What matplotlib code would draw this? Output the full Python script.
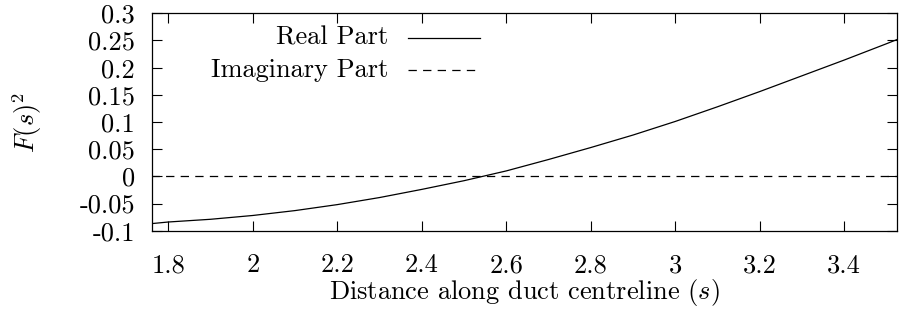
import numpy as np
import matplotlib
matplotlib.use("Agg")
import matplotlib.pyplot as plt
from matplotlib.ticker import FixedLocator, FixedFormatter

plt.rcParams['font.family'] = ['cmr10', 'DejaVu Serif']
plt.rcParams['mathtext.fontset'] = 'cm'
plt.rcParams['axes.formatter.use_mathtext'] = True
plt.rcParams['lines.scale_dashes'] = False

# Data
s_vals = [1.76, 1.8, 1.9, 2.0, 2.1, 2.2, 2.3, 2.4, 2.5, 2.6, 2.7, 2.8, 2.9,
          3.0, 3.1, 3.2, 3.3, 3.4, 3.5, 3.526]
real_part = [-0.087, -0.084, -0.079, -0.072, -0.063, -0.052, -0.039, -0.024,
             -0.008, 0.010, 0.031, 0.053, 0.076, 0.101, 0.128, 0.156, 0.185,
             0.214, 0.244, 0.252]
imag_part = [0.0] * len(s_vals)

x_ticks = [1.8, 2.0, 2.2, 2.4, 2.6, 2.8, 3.0, 3.2, 3.4]
x_tick_labels = ['1.8', '2', '2.2', '2.4', '2.6', '2.8', '3', '3.2', '3.4']
y_ticks = [-0.1, -0.05, 0, 0.05, 0.1, 0.15, 0.2, 0.25, 0.3]
y_tick_labels = ['-0.1', '-0.05', '0', '0.05', '0.1', '0.15', '0.2', '0.25', '0.3']

FS = 19

fig = plt.figure(figsize=(9.0, 3.29), dpi=100)
ax = fig.add_axes([0.1686, 0.2988, 0.9972 - 0.1686, 0.9596 - 0.2988])

lw = 0.9
dash = (6.0, 4.5)
ax.plot(s_vals, real_part, color='black', lw=lw, solid_capstyle='butt')
ax.plot(s_vals, imag_part, color='black', lw=lw, dashes=dash)

ax.set_xlim(1.7607, 3.526)
ax.set_ylim(-0.1, 0.3)

ax.xaxis.set_major_locator(FixedLocator(x_ticks))
ax.xaxis.set_major_formatter(FixedFormatter(x_tick_labels))
ax.yaxis.set_major_locator(FixedLocator(y_ticks))
ax.yaxis.set_major_formatter(FixedFormatter(y_tick_labels))

ax.tick_params(axis='both', which='major', direction='in', length=7, width=0.8,
               top=True, right=True, labelsize=FS)
ax.tick_params(axis='x', pad=16.5)
ax.tick_params(axis='y', pad=12)
for sp in ax.spines.values():
    sp.set_linewidth(0.9)

ax.set_xlabel('Distance along duct centreline ($s$)', fontsize=FS)
ax.xaxis.set_label_coords(0.5, -0.213)
ax.set_ylabel('$F(s)^2$', fontsize=FS)
ax.yaxis.set_label_coords(-0.145, 0.5)

# gnuplot-style key
key_rows = [('Real Part', None, 0.886), ('Imaginary Part', dash, 0.739)]
for label, d, yk in key_rows:
    ax.text(0.317, yk, label, transform=ax.transAxes, ha='right', va='center',
            fontsize=FS)
    kw = dict(color='black', lw=lw, transform=ax.transAxes)
    if d is not None:
        kw['dashes'] = d
    ax.plot([0.343, 0.440], [yk, yk], **kw)

fig.savefig('out.png', dpi=100)
